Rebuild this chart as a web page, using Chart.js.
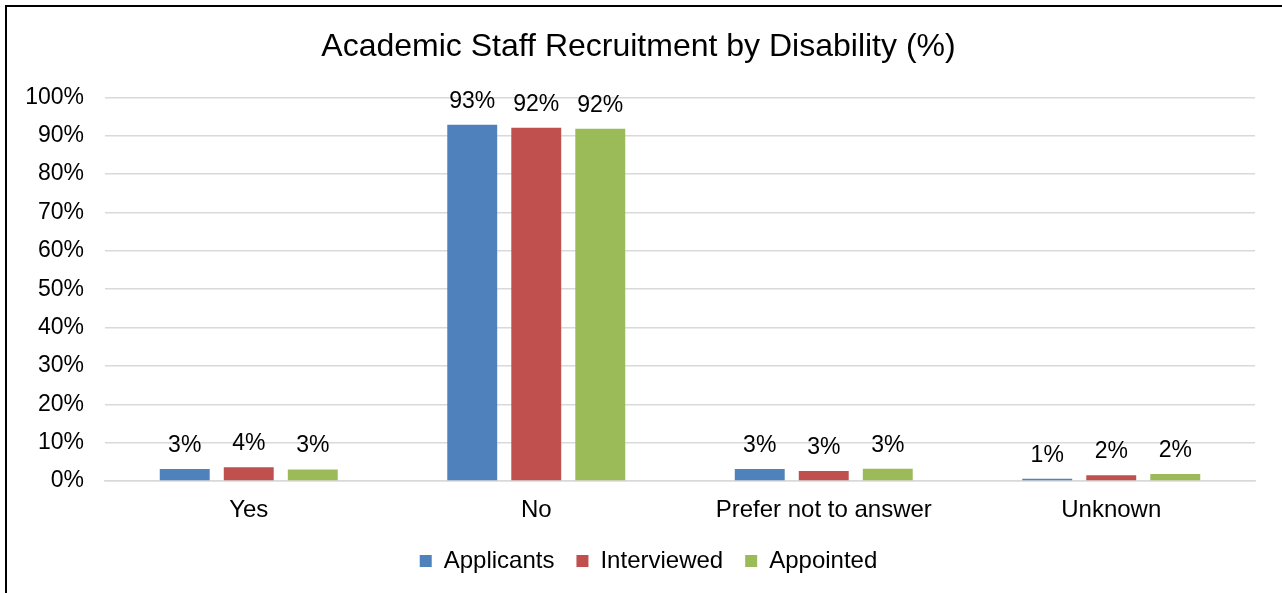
<!DOCTYPE html>
<html>
<head>
<meta charset="utf-8">
<script src="https://cdn.jsdelivr.net/npm/chart.js@4"></script>
<style>
  html, body { margin: 0; padding: 0; background: #fff; overflow: hidden; }
  #frame {
    position: absolute; left: 5px; top: 5px; width: 1300px; height: 620px;
    border-left: 2px solid #000; border-top: 2px solid #000;
  }
  #wrap { position: absolute; left: 0; top: 0; width: 1282px; height: 593px; }
</style>
</head>
<body>
<div id="frame"></div>
<div id="wrap"><canvas id="chart"></canvas></div>
<script>
// ===== DATA =====
const categories = ["Yes", "No", "Prefer not to answer", "Unknown"];
const applicants = [3.1, 92.9, 3.1, 0.6];
const interviewed = [3.6, 92.1, 2.6, 1.5];
const appointed = [3.0, 91.8, 3.2, 1.8];

const FONT = "'Liberation Sans', Arial, sans-serif";

// data labels above each bar (rounded percent)
const barLabels = {
  id: "barLabels",
  afterDatasetsDraw(chart) {
    const ctx = chart.ctx;
    ctx.save();
    ctx.font = "23px " + FONT;
    ctx.fillStyle = "#000";
    ctx.textAlign = "center";
    ctx.textBaseline = "alphabetic";
    chart.data.datasets.forEach((ds, i) => {
      chart.getDatasetMeta(i).data.forEach((bar, j) => {
        ctx.fillText(Math.round(ds.data[j]) + "%", bar.x, bar.y - 17);
      });
    });
    ctx.restore();
  }
};

// nudge title and legend to the right, like the original
const nudge = {
  id: "nudge",
  afterLayout(chart) {
    if (chart.titleBlock) {
      chart.titleBlock.left += 11;
      chart.titleBlock.right += 11;
    }
    if (chart.legend) {
      chart.legend.left += 21;
      chart.legend.right += 21;
    }
  }
};

const ctx = document.getElementById("chart").getContext("2d");

new Chart(ctx, {
  type: "bar",
  data: {
    labels: categories,
    datasets: [
      { label: "Applicants", data: applicants, backgroundColor: "#4F81BD" },
      { label: "Interviewed", data: interviewed, backgroundColor: "#C0504D" },
      { label: "Appointed", data: appointed, backgroundColor: "#9BBB59" }
    ]
  },
  options: {
    responsive: true,
    maintainAspectRatio: false,
    animation: false,
    datasets: {
      bar: { barPercentage: 0.78, categoryPercentage: 0.668 }
    },
    layout: { padding: { left: 0, right: 27, top: 10, bottom: 10 } },
    plugins: {
      title: {
        display: true,
        text: "Academic Staff Recruitment by Disability (%)",
        color: "#000",
        font: { family: FONT, size: 32, weight: "normal" },
        padding: { top: 18, bottom: 31 }
      },
      legend: {
        position: "bottom",
        labels: {
          color: "#000",
          font: { family: FONT, size: 24 },
          boxWidth: 12,
          boxHeight: 12,
          padding: 22
        }
      },
      tooltip: { enabled: false }
    },
    scales: {
      y: {
        min: 0,
        max: 100,
        ticks: {
          stepSize: 10,
          color: "#000",
          padding: 21,
          font: { family: FONT, size: 23 },
          callback: v => v + "%"
        },
        grid: { color: "#D9D9D9", lineWidth: 1.5, drawTicks: false },
        border: { display: false },
        afterFit(scale) { scale.width = 105; }
      },
      x: {
        ticks: {
          color: "#000",
          padding: 15,
          font: { family: FONT, size: 24 }
        },
        grid: { display: false, drawTicks: false },
        border: { color: "#D9D9D9", width: 1.5 },
        afterFit(scale) { scale.height = 46; }
      }
    }
  },
  plugins: [barLabels, nudge]
});
</script>
</body>
</html>
